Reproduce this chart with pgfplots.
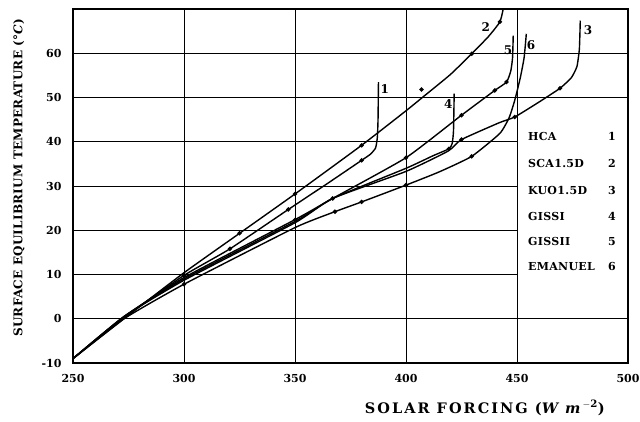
\documentclass[border=0pt]{standalone}
\usepackage{fontspec}
\setmainfont{DejaVu Serif}
\newfontfamily\xlabfont[LetterSpace=14]{DejaVu Serif}
\newfontfamily\ylabfont[LetterSpace=2]{DejaVu Serif}
\newfontfamily\keyfont[LetterSpace=3]{DejaVu Serif}
\usepackage{pgfplots}
\pgfplotsset{compat=1.18}

% model curves: solar forcing (W m^-2) vs surface equilibrium temperature (deg C)
\pgfplotstableread{
x y
250 -9
275 1.0
300 9.8
320.7 15.8
347 24.7
365 30.7
380 35.8
384 37.2
386.3 38.6
387.1 41
387.4 45
387.6 53.5
}\hca
\pgfplotstableread{
x y
250 -9
275 0.8
300 10.4
325 19.3
350 28.2
380 39.2
400 47
407.6 50.1
420 55.2
429.6 59.9
437 63.7
442.3 67.1
444 70.5
}\sca
\pgfplotstableread{
x y
250 -9
273 0.5
300 8.7
350 21.7
367 27.2
400 33.3
419 37.9
425 40.5
442 44.3
449 45.6
460 49
469.4 52.1
474.5 54.5
477 57
478.1 61
478.5 67.4
}\kuo
\pgfplotstableread{
x y
250 -9
273 0.5
300 9.0
350 22.0
367 27.2
400 34.0
412 36.8
419.3 38.4
420.8 39.6
421.4 42.5
421.7 50.9
}\gissi
\pgfplotstableread{
x y
250 -9
273 0.5
300 9.3
350 22.4
367 27.2
400 36.4
425 46
440 51.6
445.3 53.5
447.2 56
448 59
448.3 64
}\gissii
\pgfplotstableread{
x y
250 -9
273 0
300 7.8
350 20.6
368 24.2
380 26.4
400 30.2
415 33.2
429.6 36.7
442.3 41.9
446.5 45.5
449 49.4
451.5 54.5
453.2 59
454.2 64.4
}\emanuel
% plotted sample points
\pgfplotstableread{
x y
300 9.8
320.7 15.8
347 24.7
380 35.8
325 19.3
350 28.2
380 39.2
407 51.8
429.6 59.9
442.3 67.1
425 40.5
449 45.6
469.4 52.1
419.3 38.4
367 27.2
400 36.4
425 46
440 51.6
445.3 53.5
300 7.8
368 24.2
380 26.4
400 30.2
429.6 36.7
350 22.3
}\dots

\begin{document}
\begin{tikzpicture}
\begin{axis}[
  at={(0,0)}, anchor=south west,
  scale only axis, width=555pt, height=354pt,
  xmin=250, xmax=500, ymin=-10, ymax=70,
  xtick={250,300,...,500}, ytick={-10,0,...,60},
  grid=major,
  grid style={black, line width=1.0pt},
  axis line style={black, line width=1.5pt},
  tick style={draw=none},
  /pgf/number format/assume math mode=true,
  /pgf/number format/set thousands separator={},
  tick label style={font=\bfseries\fontsize{11}{13}\selectfont},
  xticklabel style={yshift=-8pt},
  yticklabel style={xshift=-8pt},
  xlabel={\xlabfont\bfseries\fontsize{14.5}{16}\selectfont SOLAR FORCING (\textit{W m}\textsuperscript{$-$2})},
  xlabel style={at={(axis description cs:0.742,-0.127)}, anchor=center},
  ylabel={\ylabfont\bfseries\fontsize{12}{14}\selectfont SURFACE EQUILIBRIUM TEMPERATURE (°\textit{C})},
  ylabel style={at={(axis description cs:-0.0973,0.523)}, anchor=center},
  every axis plot/.append style={black, line width=1.4pt},
]
% white panel behind the key
\fill[white] (axis cs:450.3,3) rectangle (axis cs:499.6,47.5);

\addplot[no marks, smooth, tension=0.3] table {\hca};
\addplot[no marks, smooth, tension=0.3] table {\sca};
\addplot[no marks, smooth, tension=0.3] table {\kuo};
\addplot[no marks, smooth, tension=0.3] table {\gissi};
\addplot[no marks, smooth, tension=0.3] table {\gissii};
\addplot[no marks, smooth, tension=0.3] table {\emanuel};
\addplot[only marks, mark=*, mark size=1.4pt] table {\dots};

% curve numbers
\begin{scope}[every node/.style={font=\bfseries\fontsize{12}{14}\selectfont}]
\node at (axis cs:390.5,52) {1};
\node at (axis cs:436,65.9) {2};
\node at (axis cs:482,65.2) {3};
\node at (axis cs:419,48.5) {4};
\node at (axis cs:446,60.7) {5};
\node at (axis cs:456.3,61.8) {6};
\end{scope}
% key
\begin{scope}[every node/.style={font=\keyfont\bfseries\fontsize{11}{13}\selectfont}]
\node[anchor=west] at (axis cs:453.4,41.1) {HCA};
\node[anchor=west] at (axis cs:453.4,35.15) {SCA1.5D};
\node[anchor=west] at (axis cs:453.4,29.05) {KUO1.5D};
\node[anchor=west] at (axis cs:453.4,23.2) {GISSI};
\node[anchor=west] at (axis cs:453.4,17.4) {GISSII};
\node[anchor=west] at (axis cs:453.4,11.7) {EMANUEL};
\node at (axis cs:492.8,41.1) {1};
\node at (axis cs:492.8,35.15) {2};
\node at (axis cs:492.8,29.05) {3};
\node at (axis cs:492.8,23.2) {4};
\node at (axis cs:492.8,17.4) {5};
\node at (axis cs:492.8,11.7) {6};
\end{scope}
\end{axis}
\pgfresetboundingbox
\useasboundingbox (-73pt,-58pt) rectangle (567pt,363pt);
\end{tikzpicture}
\end{document}
